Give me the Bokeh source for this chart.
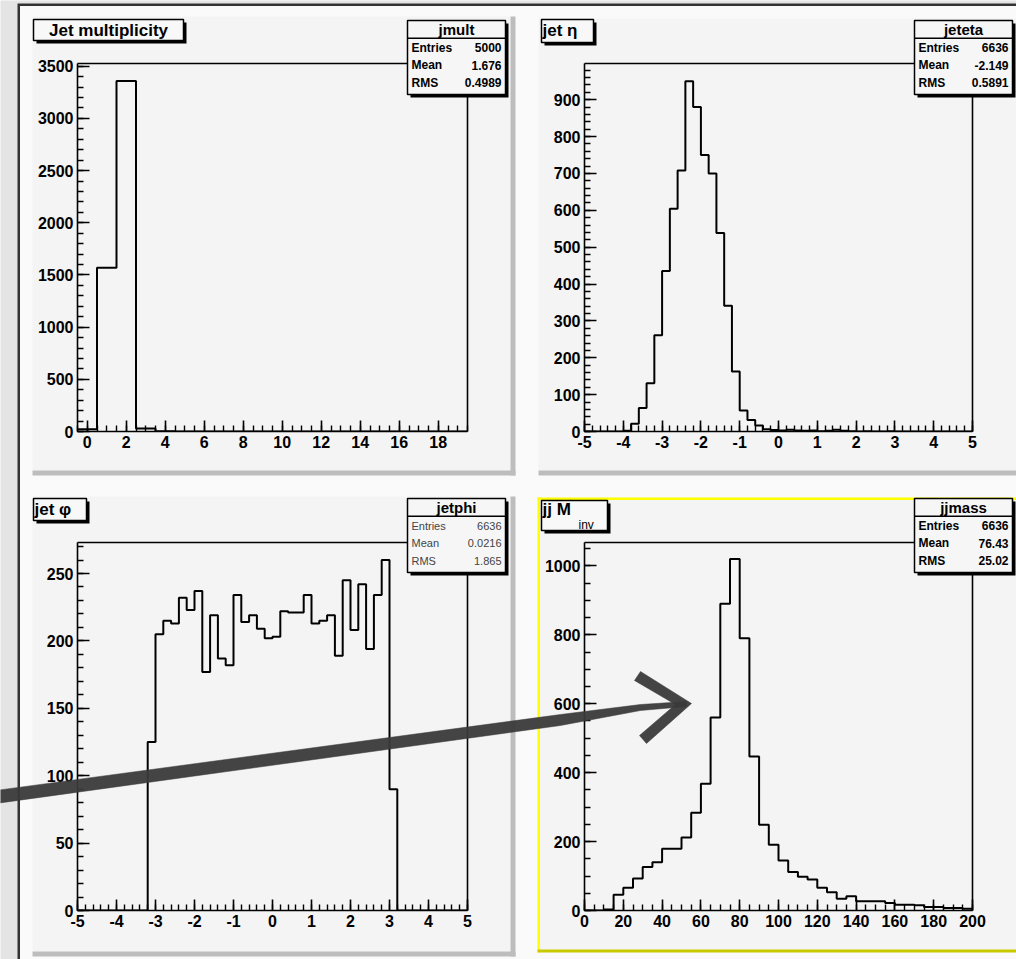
import numpy as np
from bokeh.plotting import figure
from bokeh.models import (Range1d, LinearAxis, SingleIntervalTicker, FixedTicker,
                          Label, GridBox, PrintfTickFormatter)
from bokeh.layouts import column, row
from bokeh.embed import file_html
from bokeh.resources import INLINE

# ---------------- data ----------------
jmult_range = (-0.5, 19.5)
jmult_counts = [22, 1570, 3358, 28, 3, 0, 0, 0, 0, 0,
                0, 0, 0, 0, 0, 0, 0, 0, 0, 0]

jeteta_range = (-5.0, 5.0)
jeteta_counts = [0, 0, 0, 0, 0, 2, 21, 64, 131, 261,
                 435, 604, 708, 950, 880, 750, 700, 538, 341, 163,
                 57, 31, 16, 6, 4, 3, 5, 3, 2, 3,
                 1, 2, 5, 2, 1, 0, 1, 0, 0, 1,
                 0, 0, 0, 0, 0, 0, 0, 0, 0, 0]

jetphi_range = (-5.0, 5.0)
jetphi_counts = [0, 0, 0, 0, 0, 0, 0, 0, 0,
                 125, 205, 215, 213, 232, 223, 237, 177, 219, 187,
                 182, 234, 214, 219, 209, 202, 203, 222, 221, 221,
                 234, 213, 215, 219, 189, 245, 208, 242, 194, 234,
                 260, 90,
                 0, 0, 0, 0, 0, 0, 0, 0, 0]

jjmass_range = (0.0, 200.0)
jjmass_counts = [0, 0, 3, 46, 66, 93, 126, 140, 179, 179,
                 212, 284, 368, 560, 890, 1020, 790, 447, 249, 191,
                 145, 112, 98, 90, 66, 53, 34, 41, 27, 27,
                 27, 22, 17, 17, 15, 10, 10, 7, 7, 5]

y_maxima = [3526, 998, 273, 1068]

stat_names = ["jmult", "jeteta", "jetphi", "jjmass"]
stat_entries = ["5000", "6636", "6636", "6636"]
stat_means = ["1.676", "-2.149", "0.0216", "76.43"]
stat_rms = ["0.4989", "0.5891", "1.865", "25.02"]

# tick intervals (major, n minor) per pad: (x, y)
tick_cfg = [((2, 4), (500, 5)), ((1, 5), (100, 5)), ((1, 5), (50, 5)), ((20, 4), (200, 4))]

# ---------------- styling ----------------
W_ALL, H_ALL = 1016, 959
PAD = "#f4f4f4"
CANVAS = "#fafafa"
BG = "#e4e4e4"
BEVEL = "#bdbdbd"
FONT = "Liberation Sans"
INK = "#3a3a3a"

specs = [
    dict(W=516, H=479, l=77, r=49, t=63, b=48),
    dict(W=500, H=479, l=68, r=44, t=63, b=48),
    dict(W=516, H=480, l=77, r=49, t=63, b=49),
    dict(W=500, H=480, l=68, r=44, t=63, b=49),
]


def make_pad(spec, xr, yr, tcfg):
    p = figure(width=spec["W"], height=spec["H"], x_range=Range1d(*xr), y_range=Range1d(*yr),
               output_backend="svg", toolbar_location=None, tools="", title=None,
               min_border_left=spec["l"], min_border_right=spec["r"],
               min_border_top=spec["t"], min_border_bottom=spec["b"],
               background_fill_alpha=0, border_fill_alpha=0, outline_line_color=None)
    p.grid.visible = False
    for ax, (iv, nm), tin in ((p.xaxis[0], tcfg[0], 11), (p.yaxis[0], tcfg[1], 12)):
        ax.ticker = SingleIntervalTicker(interval=iv, num_minor_ticks=nm)
        ax.formatter = PrintfTickFormatter(format="%d")
        ax.major_tick_in = tin
        ax.major_tick_out = 0
        ax.minor_tick_in = 6
        ax.minor_tick_out = 0
        ax.axis_line_width = 1.6
        ax.axis_line_color = "black"
        ax.major_tick_line_color = "black"
        ax.minor_tick_line_color = "black"
        ax.major_tick_line_width = 1.6
        ax.minor_tick_line_width = 1.4
        ax.major_label_text_font = FONT
        ax.major_label_text_font_size = "16px"
        ax.major_label_text_font_style = "bold"
        ax.major_label_text_color = "black"
        ax.major_label_standoff = 4
    for loc in ("above", "right"):
        fax = LinearAxis(ticker=FixedTicker(ticks=[]), major_label_text_font_size="0px",
                         major_tick_in=0, major_tick_out=0, minor_tick_in=0, minor_tick_out=0,
                         axis_line_width=1.6, axis_line_color="black")
        p.add_layout(fax, loc)
    return p


def sheet(fill_alpha):
    s = figure(width=W_ALL, height=H_ALL, x_range=Range1d(0, W_ALL), y_range=Range1d(H_ALL, 0),
               output_backend="svg", toolbar_location=None, tools="", title=None,
               x_axis_location=None, y_axis_location=None, min_border=0,
               background_fill_color=PAD, background_fill_alpha=fill_alpha,
               border_fill_alpha=0, outline_line_color=None)
    s.grid.visible = False
    return s


def rect(s, x0, y0, x1, y1, fill, line=None, lw=1.5):
    s.quad(left=x0, right=x1, top=y0, bottom=y1, fill_color=fill,
           line_color=line, line_width=lw)


def text(s, x, y, t, size, bold=True, align="left", color="black"):
    s.add_layout(Label(x=x, y=y, text=t, text_font=FONT, text_font_size=f"{size}px",
                       text_font_style="bold" if bold else "normal",
                       text_align=align, text_baseline="middle", text_color=color))


# ---------------- background sheet ----------------
bg = sheet(1.0)
bg.background_fill_color = BG
rect(bg, 17, 3, W_ALL + 5, H_ALL + 5, "#333333")          # canvas border
rect(bg, 19.5, 5.5, W_ALL + 5, H_ALL + 5, CANVAS)         # canvas
for (x0, y0, x1, y1) in [(32, 16, 510, 470), (538, 18, W_ALL + 5, 470),
                         (32, 496, 510, 951), (537, 497, W_ALL + 5, 949)]:
    rect(bg, x0, y0, x1, y1, PAD)
for (x0, y0, x1, y1) in [(32, 470, 515, 475), (510, 16, 515, 475), (538, 470, W_ALL + 5, 475),
                         (32, 951, 515, 956), (510, 496, 515, 956)]:
    rect(bg, x0, y0, x1, y1, BEVEL)
rect(bg, 537, 497, W_ALL + 5, 499.5, "#ffff00")
rect(bg, 537, 497, 539.5, 952, "#ffff00")
rect(bg, 537, 949, W_ALL + 5, 952, "#c9c900")

# ---------------- histogram pads ----------------
ranges = [jmult_range, jeteta_range, jetphi_range, jjmass_range]
counts = [jmult_counts, jeteta_counts, jetphi_counts, jjmass_counts]
pads = []
for i in range(4):
    p = make_pad(specs[i], ranges[i], (0, y_maxima[i]), tick_cfg[i])
    n = len(counts[i])
    edges = np.linspace(ranges[i][0], ranges[i][1], n + 1)
    p.step(edges, list(counts[i]) + [0], mode="after", line_color="black", line_width=2)
    pads.append(p)
quads = column(row(pads[0], pads[1], spacing=0), row(pads[2], pads[3], spacing=0), spacing=0)

# ---------------- overlay sheet: title boxes, stats boxes, arrow ----------------
ov = sheet(0.0)
for i in range(4):
    bx0 = 407 if i in (0, 2) else 914
    by0 = 20 if i in (0, 1) else 498
    bx1, by1 = bx0 + 98, by0 + 74
    rect(ov, bx0 + 3, by0 + 3, bx1 + 3, by1 + 3, "black", None)
    rect(ov, bx0, by0, bx1, by1, "#f6f6f6", "black", 1.5)
    rect(ov, bx0, by0 + 17, bx1, by0 + 18.5, "black", None)
    text(ov, (bx0 + bx1) / 2, by0 + 9, stat_names[i], 15, bold=True, align="center")
    rsize, rbold, rcol = (12, True, "black") if i != 2 else (11, False, "#444444")
    for k, (lab, val) in enumerate((("Entries", stat_entries[i]), ("Mean", stat_means[i]),
                                    ("RMS", stat_rms[i]))):
        yy = by0 + 27 + 17.5 * k
        text(ov, bx0 + 4, yy, lab, rsize, bold=rbold, color=rcol)
        text(ov, bx1 - 4, yy, val, rsize, bold=rbold, align="right", color=rcol)

title_boxes = [(33, 19, 183, 40), (541, 19, 593, 42), (33, 498, 86, 520), (541, 500, 607, 530)]
for (x0, y0, x1, y1) in title_boxes:
    rect(ov, x0 + 3, y0 + 3, x1 + 3, y1 + 3, "black", None)
    rect(ov, x0, y0, x1, y1, "#f8f8f8", "black", 1.5)
text(ov, 108, 30, "Jet multiplicity", 17, align="center")
text(ov, 542, 30, "jet η", 17)
text(ov, 34, 509, "jet φ", 17)
text(ov, 542, 509, "jj M", 17)
text(ov, 578, 524, "inv", 12, bold=False)

# hand-drawn arrow
shaft_x = [-5, 560, 640, 686, 686, 640, 560, -5]
shaft_y = [790, 714, 704, 701, 706, 710, 725, 803]
ov.patch(shaft_x, shaft_y, fill_color=INK, fill_alpha=0.95, line_color=INK, line_alpha=0.5)
head_x = [640, 691, 646, 639, 675, 634]
head_y = [671, 703, 743, 735, 704, 680]
ov.patch(head_x, head_y, fill_color=INK, fill_alpha=0.95, line_color=INK, line_alpha=0.5)

layout = GridBox(children=[(bg, 0, 0), (quads, 0, 0), (ov, 0, 0)], spacing=0)
open("out.html", "w").write(file_html(layout, INLINE))
